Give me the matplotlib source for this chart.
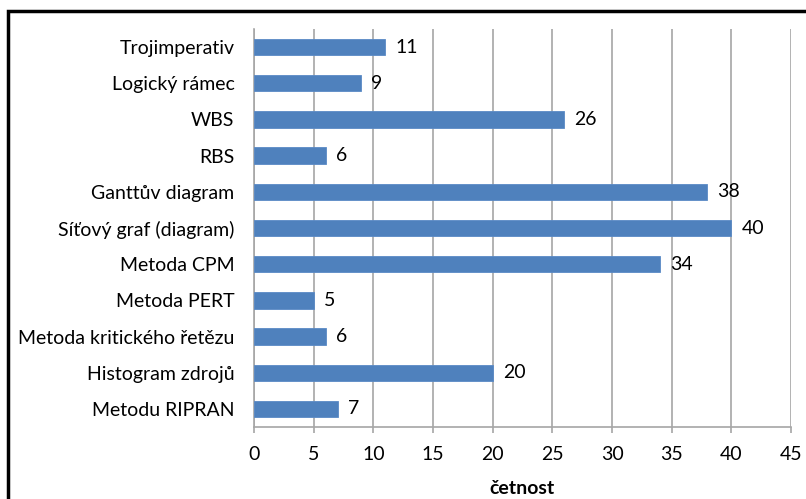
import matplotlib
matplotlib.use("Agg")
import matplotlib.pyplot as plt
from matplotlib.patches import Rectangle

categories = [
    "Trojimperativ",
    "Logický rámec",
    "WBS",
    "RBS",
    "Ganttův diagram",
    "Síťový graf (diagram)",
    "Metoda CPM",
    "Metoda PERT",
    "Metoda kritického řetězu",
    "Histogram zdrojů",
    "Metodu RIPRAN",
]
values = [11, 9, 26, 6, 38, 40, 34, 5, 6, 20, 7]
x_ticks = [0, 5, 10, 15, 20, 25, 30, 35, 40, 45]
x_label = "četnost"

plt.rcParams["font.family"] = ["Lato", "DejaVu Sans"]
FS = 14
GRID = "#a6a6a6"
BAR = "#4f81bd"

W, H = 806, 499
fig = plt.figure(figsize=(W / 100, H / 100), dpi=100)
fig.patch.set_facecolor("white")

ax = fig.add_axes([254 / W, 1 - 427 / H, (791 - 254) / W, (427 - 29) / H])

n = len(categories)
ypos = list(range(n))
ax.barh(ypos, values, height=0.45, color=BAR, edgecolor="#5a8ac6", linewidth=0.6, zorder=3)
for y, v in zip(ypos, values):
    ax.annotate(str(v), (v, y), xytext=(10, 0), textcoords="offset pixels",
                ha="left", va="center", fontsize=FS, color="black")

ax.set_ylim(n - 0.5, -0.5)
ax.set_yticks(ypos)
ax.set_yticklabels(categories, fontsize=FS)
ax.set_xlim(0, 45)
ax.set_xticks(x_ticks)
ax.set_xticklabels([str(t) for t in x_ticks], fontsize=FS)

ax.xaxis.grid(True, color=GRID, linewidth=1.2, zorder=0)
ax.set_axisbelow(True)
for s in ["top", "right"]:
    ax.spines[s].set_visible(False)
for s in ["left", "bottom"]:
    ax.spines[s].set_color(GRID)
    ax.spines[s].set_linewidth(1.2)
ax.tick_params(axis="x", direction="out", length=4, width=1.2, color=GRID, pad=10)
ax.tick_params(axis="y", length=0, pad=14)

ax.set_xlabel(x_label, fontsize=FS, fontweight="bold", labelpad=12)

fig.patches.append(Rectangle((8 / W, -0.05), 1.1, 1.05 - 11 / H, transform=fig.transFigure,
                             fill=False, edgecolor="black", linewidth=2.5, zorder=10))

fig.savefig("out.png", dpi=100)
